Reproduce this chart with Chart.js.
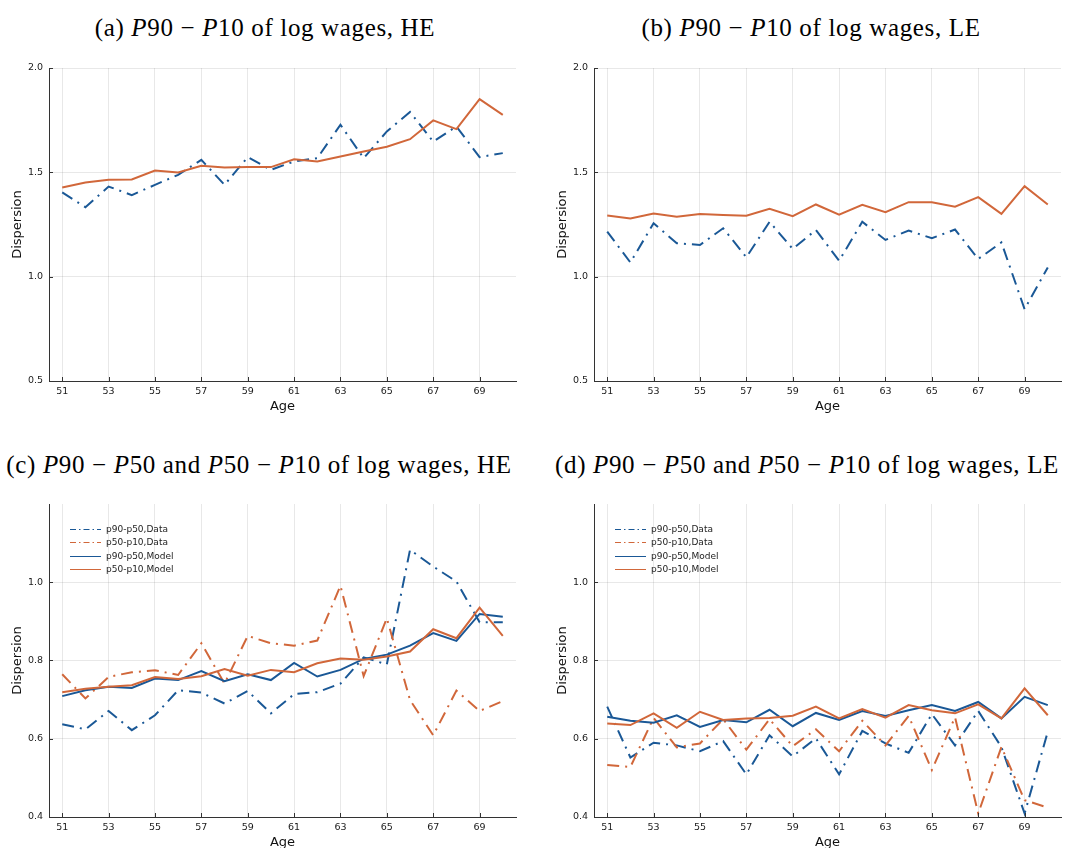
<!DOCTYPE html>
<html>
<head>
<meta charset="utf-8">
<script src="https://cdn.jsdelivr.net/npm/chart.js@4.4.1/dist/chart.umd.min.js"></script>
<style>
  body { margin: 0; background: #fff; width: 1091px; height: 848px; overflow: hidden; position: relative; }
  .title { position: absolute; font-family: "Liberation Serif", serif; font-size: 25px; line-height: 25px;
           letter-spacing: 0.65px; white-space: nowrap; color: #000; transform: translateX(-50%); }
  canvas { position: absolute; }
</style>
</head>
<body>
<div class="title" style="left:265px;top:15px">(a) <i>P</i>90 − <i>P</i>10 of log wages, HE</div>
<div class="title" style="left:811px;top:15px">(b) <i>P</i>90 − <i>P</i>10 of log wages, LE</div>
<div class="title" style="left:259px;top:452px">(c) <i>P</i>90 − <i>P</i>50 and <i>P</i>50 − <i>P</i>10 of log wages, HE</div>
<div class="title" style="left:807px;top:452px">(d) <i>P</i>90 − <i>P</i>50 and <i>P</i>50 − <i>P</i>10 of log wages, LE</div>

<canvas id="pa" width="530" height="370" style="left:0;top:50px"></canvas>
<canvas id="pb" width="530" height="370" style="left:545px;top:50px"></canvas>
<canvas id="pc" width="530" height="386" style="left:0;top:470px"></canvas>
<canvas id="pd" width="530" height="386" style="left:545px;top:470px"></canvas>

<script>
// ages on the x axis and the labelled ticks
const ages = [51, 52, 53, 54, 55, 56, 57, 58, 59, 60, 61, 62, 63, 64, 65, 66, 67, 68, 69, 70];
const ageTicks = [51, 53, 55, 57, 59, 61, 63, 65, 67, 69];
const ticksTop = [0.5, 1.0, 1.5, 2.0];
const ticksBottom = [0.4, 0.6, 0.8, 1.0];

// (a) P90-P10, high education
const heP9010Data  = [1.404, 1.333, 1.432, 1.391, 1.440, 1.488, 1.560, 1.440, 1.573, 1.512,
                      1.552, 1.568, 1.728, 1.568, 1.696, 1.789, 1.647, 1.720, 1.573, 1.592];
const heP9010Model = [1.427, 1.451, 1.464, 1.466, 1.509, 1.499, 1.531, 1.523, 1.525, 1.525,
                      1.563, 1.552, 1.576, 1.600, 1.623, 1.659, 1.749, 1.707, 1.851, 1.775];

// (b) P90-P10, low education
const leP9010Data  = [1.216, 1.068, 1.256, 1.160, 1.152, 1.232, 1.093, 1.263, 1.133, 1.224,
                      1.076, 1.263, 1.176, 1.221, 1.184, 1.226, 1.085, 1.164, 0.844, 1.044];
const leP9010Model = [1.293, 1.279, 1.303, 1.287, 1.300, 1.295, 1.292, 1.325, 1.290, 1.346,
                      1.297, 1.344, 1.309, 1.357, 1.357, 1.335, 1.381, 1.301, 1.434, 1.346];

// (c) P90-P50 and P50-P10, high education
const heP9050Data  = [0.637, 0.624, 0.671, 0.622, 0.660, 0.724, 0.718, 0.690, 0.722, 0.665,
                      0.714, 0.719, 0.741, 0.808, 0.790, 1.083, 1.040, 1.002, 0.898, 0.898];
const heP5010Data  = [0.765, 0.703, 0.758, 0.770, 0.775, 0.763, 0.844, 0.741, 0.863, 0.844,
                      0.838, 0.851, 0.991, 0.760, 0.908, 0.699, 0.609, 0.723, 0.671, 0.696];
const heP9050Model = [0.709, 0.724, 0.733, 0.730, 0.754, 0.750, 0.773, 0.747, 0.765, 0.750,
                      0.794, 0.759, 0.776, 0.804, 0.815, 0.838, 0.870, 0.850, 0.919, 0.912];
const heP5010Model = [0.719, 0.728, 0.733, 0.737, 0.758, 0.753, 0.760, 0.778, 0.761, 0.776,
                      0.770, 0.793, 0.805, 0.802, 0.810, 0.823, 0.880, 0.857, 0.935, 0.863];

// (d) P90-P50 and P50-P10, low education
const leP9050Data  = [0.682, 0.552, 0.590, 0.583, 0.568, 0.594, 0.509, 0.609, 0.555, 0.601,
                      0.509, 0.620, 0.588, 0.564, 0.663, 0.583, 0.671, 0.579, 0.409, 0.618];
const leP5010Data  = [0.533, 0.528, 0.653, 0.578, 0.588, 0.650, 0.572, 0.650, 0.581, 0.624,
                      0.568, 0.646, 0.583, 0.658, 0.520, 0.655, 0.409, 0.579, 0.443, 0.424];
const leP9050Model = [0.656, 0.646, 0.641, 0.660, 0.630, 0.648, 0.642, 0.674, 0.632, 0.666,
                      0.648, 0.671, 0.658, 0.673, 0.686, 0.671, 0.694, 0.652, 0.707, 0.686];
const leP5010Model = [0.639, 0.635, 0.665, 0.628, 0.669, 0.648, 0.652, 0.653, 0.659, 0.682,
                      0.652, 0.676, 0.654, 0.686, 0.673, 0.665, 0.688, 0.652, 0.729, 0.660];

const BLUE = '#1a5896';
const ORANGE = '#d1673a';
const DASHDOT = [12, 6, 2, 6];

Chart.defaults.font.family = '"DejaVu Sans", sans-serif';
Chart.defaults.color = '#222';

function pts(vals) {
  return vals.map((v, i) => ({ x: ages[i], y: v }));
}

function line(label, vals, color, dashed, order) {
  return {
    label, data: pts(vals),
    borderColor: color, backgroundColor: color,
    borderWidth: 2, borderDash: dashed ? DASHDOT : [],
    pointRadius: 0, tension: 0, order
  };
}

// short tick marks pointing into the plot, GR style
const innerTicks = {
  id: 'innerTicks',
  afterDatasetsDraw(chart) {
    const { ctx, chartArea: a, scales: { x, y } } = chart;
    ctx.save();
    ctx.strokeStyle = '#333';
    ctx.lineWidth = 1;
    ctx.beginPath();
    x.ticks.forEach(t => {
      const px = Math.round(x.getPixelForValue(t.value)) + 0.5;
      ctx.moveTo(px, a.bottom); ctx.lineTo(px, a.bottom - 4);
    });
    y.ticks.forEach(t => {
      const py = Math.round(y.getPixelForValue(t.value)) + 0.5;
      ctx.moveTo(a.left, py); ctx.lineTo(a.left + 4, py);
    });
    ctx.stroke();
    ctx.restore();
  }
};

// legend inside the top-left corner of the plot
const cornerKey = {
  id: 'cornerKey',
  afterDraw(chart, args, opts) {
    if (!opts.show) return;
    const { ctx, chartArea: a } = chart;
    ctx.save();
    ctx.font = '9px "DejaVu Sans", sans-serif';
    ctx.textBaseline = 'middle';
    ctx.fillStyle = '#222';
    chart.data.datasets.forEach((ds, i) => {
      const yy = Math.round(a.top + 24.5 + i * 13.5) + 0.5;
      ctx.strokeStyle = ds.borderColor;
      ctx.lineWidth = 1;
      ctx.setLineDash(ds.borderDash.length ? [6, 3, 1.5, 3] : []);
      ctx.beginPath();
      ctx.moveTo(a.left + 21, yy);
      ctx.lineTo(a.left + 52, yy);
      ctx.stroke();
      ctx.fillText(ds.label, a.left + 57, yy);
    });
    ctx.restore();
  }
};

function makeChart(id, datasets, yMin, yMax, yTicks, padTop, withKey) {
  new Chart(document.getElementById(id), {
    type: 'line',
    data: { datasets },
    plugins: [innerTicks, cornerKey],
    options: {
      responsive: false,
      animation: false,
      layout: { padding: { top: padTop, right: 14, left: 0, bottom: 0 } },
      plugins: {
        legend: { display: false },
        tooltip: { enabled: false },
        cornerKey: { show: withKey }
      },
      scales: {
        x: {
          type: 'linear', min: 50.43, max: 70.57,
          afterBuildTicks: s => { s.ticks = ageTicks.map(v => ({ value: v })); },
          afterFit: s => { s.height = 39; },
          ticks: { font: { size: 9.5 }, padding: 5, color: '#1a1a1a' },
          grid: { color: 'rgba(0,0,0,0.09)', lineWidth: 1, drawTicks: false },
          border: { color: '#333', width: 1 },
          title: { display: true, text: 'Age', font: { size: 13 }, color: '#111', padding: { top: 0, bottom: 5.5 } }
        },
        y: {
          min: yMin, max: yMax,
          afterBuildTicks: s => { s.ticks = yTicks.map(v => ({ value: v })); },
          afterFit: s => { s.width = 49; },
          ticks: { font: { size: 9.5 }, padding: 6, color: '#1a1a1a', callback: v => v.toFixed(1) },
          grid: { color: 'rgba(0,0,0,0.09)', lineWidth: 1, drawTicks: false },
          border: { color: '#333', width: 1 },
          title: { display: true, text: 'Dispersion', font: { size: 13 }, color: '#111', padding: { top: 10, bottom: 0 } }
        }
      }
    }
  });
}

makeChart('pa', [
  line('p90-p10,Data', heP9010Data, BLUE, true, 1),
  line('p90-p10,Model', heP9010Model, ORANGE, false, 0)
], 0.5, 2.0, ticksTop, 18, false);

makeChart('pb', [
  line('p90-p10,Data', leP9010Data, BLUE, true, 1),
  line('p90-p10,Model', leP9010Model, ORANGE, false, 0)
], 0.5, 2.0, ticksTop, 18, false);

makeChart('pc', [
  line('p90-p50,Data', heP9050Data, BLUE, true, 3),
  line('p50-p10,Data', heP5010Data, ORANGE, true, 2),
  line('p90-p50,Model', heP9050Model, BLUE, false, 1),
  line('p50-p10,Model', heP5010Model, ORANGE, false, 0)
], 0.4, 1.2, ticksBottom, 34, true);

makeChart('pd', [
  line('p90-p50,Data', leP9050Data, BLUE, true, 3),
  line('p50-p10,Data', leP5010Data, ORANGE, true, 2),
  line('p90-p50,Model', leP9050Model, BLUE, false, 1),
  line('p50-p10,Model', leP5010Model, ORANGE, false, 0)
], 0.4, 1.2, ticksBottom, 34, true);
</script>
</body>
</html>
